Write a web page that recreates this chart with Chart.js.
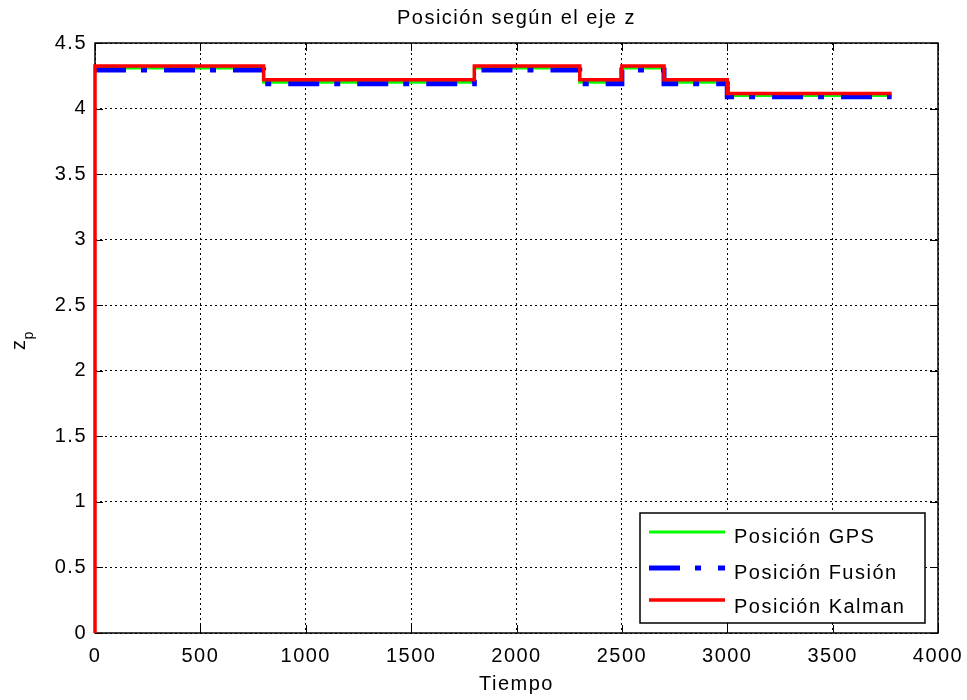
<!DOCTYPE html>
<html>
<head>
<meta charset="utf-8">
<script src="https://cdn.jsdelivr.net/npm/chart.js@4/dist/chart.umd.min.js"></script>
<style>
  html, body { margin: 0; padding: 0; background: #fff; }
  canvas { display: block; }
</style>
</head>
<body>
<canvas id="zChart" width="967" height="700"></canvas>
<script>
// Step change times and levels
const stepTimes = [0, 800, 1800, 2300, 2500, 2700, 3000, 3780];
const gpsZ = [4.31, 4.20, 4.31, 4.20, 4.31, 4.20, 4.10, 4.10];
const fusionZ = [4.295, 4.19, 4.295, 4.19, 4.295, 4.19, 4.09, 4.09];
const kalmanZ = [4.325, 4.22, 4.325, 4.22, 4.325, 4.22, 4.115, 4.115];
const kalmanStart = 0; // Kalman estimate starts at zero

const xTicks = [0, 500, 1000, 1500, 2000, 2500, 3000, 3500, 4000];
const yTicks = [0, 0.5, 1, 1.5, 2, 2.5, 3, 3.5, 4, 4.5];

const titleText = "Posición según el eje z";
const xLabel = "Tiempo";
const legendNames = ["Posición GPS", "Posición Fusión", "Posición Kalman"];

const FONT = "20px 'Liberation Sans', Arial, sans-serif";
const SPACING = "1.5px";

function toPoints(times, values) {
  return times.map((t, i) => ({ x: t, y: values[i] }));
}

const kalmanPoints = [{ x: stepTimes[0], y: kalmanStart }].concat(toPoints(stepTimes, kalmanZ));

// Draws the MATLAB-style frame, inward ticks, labels and the boxed legend
const matlabDecor = {
  id: "matlabDecor",
  beforeDraw(chart) {
    chart.ctx.letterSpacing = SPACING;
  },
  beforeDatasetsDraw(chart) {
    const ctx = chart.ctx;
    const a = chart.chartArea;
    const xs = chart.scales.x, ys = chart.scales.y;
    ctx.save();
    ctx.strokeStyle = "#000";
    ctx.lineWidth = 1;
    ctx.beginPath();
    xTicks.forEach((v) => {
      const px = Math.round(xs.getPixelForValue(v)) + 0.5;
      ctx.moveTo(px, a.bottom); ctx.lineTo(px, a.bottom - 8);
      ctx.moveTo(px, a.top); ctx.lineTo(px, a.top + 8);
    });
    yTicks.forEach((v) => {
      const py = Math.round(ys.getPixelForValue(v)) + 0.5;
      ctx.moveTo(a.left, py); ctx.lineTo(a.left + 8, py);
      ctx.moveTo(a.right, py); ctx.lineTo(a.right - 8, py);
    });
    ctx.stroke();
    ctx.lineWidth = 1.5;
    ctx.strokeRect(a.left, a.top, a.right - a.left, a.bottom - a.top);
    ctx.restore();
  },
  afterDraw(chart) {
    const ctx = chart.ctx;
    const a = chart.chartArea;
    const cx = (a.left + a.right) / 2;
    ctx.save();
    ctx.letterSpacing = SPACING;
    ctx.fillStyle = "#000";
    ctx.font = FONT;
    ctx.textBaseline = "alphabetic";

    // title and x label
    ctx.textAlign = "center";
    ctx.fillText(titleText, cx, 24);
    ctx.fillText(xLabel, cx, 690);

    // y label: z with subscript p, rotated
    ctx.save();
    ctx.translate(25, 350);
    ctx.rotate(-Math.PI / 2);
    ctx.textAlign = "left";
    ctx.font = FONT;
    ctx.fillText("z", 0, 0);
    const zw = ctx.measureText("z").width;
    ctx.font = "14px 'Liberation Sans', Arial, sans-serif";
    ctx.fillText("p", zw - 1, 8);
    ctx.restore();

    // legend box
    const bx = 640, by = 513, bw = 285, bh = 110;
    ctx.fillStyle = "#fff";
    ctx.fillRect(bx, by, bw, bh);
    ctx.strokeStyle = "#000";
    ctx.lineWidth = 1.5;
    ctx.strokeRect(bx, by, bw, bh);

    const lineY = [532, 568, 600];
    const textY = [543, 579, 613];
    const sets = [chart.data.datasets[2], chart.data.datasets[1], chart.data.datasets[0]];
    sets.forEach((ds, i) => {
      ctx.save();
      ctx.strokeStyle = ds.borderColor;
      ctx.lineWidth = ds.borderWidth;
      ctx.lineCap = "butt";
      ctx.setLineDash(ds.borderDash || []);
      ctx.beginPath();
      ctx.moveTo(649, lineY[i]);
      ctx.lineTo(725, lineY[i]);
      ctx.stroke();
      ctx.restore();
      ctx.fillStyle = "#000";
      ctx.textAlign = "left";
      ctx.font = FONT;
      ctx.fillText(legendNames[i], 734, textY[i]);
    });
    ctx.restore();
    ctx.letterSpacing = "0px";
  }
};

const ctx = document.getElementById("zChart").getContext("2d");
new Chart(ctx, {
  type: "line",
  data: {
    datasets: [
      {
        label: legendNames[2],
        data: kalmanPoints,
        borderColor: "#ff0000",
        borderWidth: 3.5,
        stepped: true,
        pointRadius: 0,
        fill: false,
        clip: 4,
        order: 0,
      },
      {
        label: legendNames[1],
        data: toPoints(stepTimes, fusionZ),
        borderColor: "#0000ff",
        borderWidth: 5,
        borderDash: [31, 15, 6, 17],
        borderCapStyle: "butt",
        stepped: true,
        pointRadius: 0,
        fill: false,
        clip: 4,
        order: 1,
      },
      {
        label: legendNames[0],
        data: toPoints(stepTimes, gpsZ),
        borderColor: "#00ff00",
        borderWidth: 3,
        stepped: true,
        pointRadius: 0,
        fill: false,
        clip: 4,
        order: 2,
      },
    ],
  },
  options: {
    responsive: false,
    devicePixelRatio: 1,
    animation: false,
    layout: { padding: { top: 43, right: 29, left: 0, bottom: 0 } },
    plugins: {
      legend: { display: false },
      title: { display: false },
      tooltip: { enabled: false },
    },
    scales: {
      x: {
        type: "linear",
        min: 0,
        max: 4000,
        afterBuildTicks: (s) => { s.ticks = xTicks.map((v) => ({ value: v })); },
        afterFit: (s) => { s.height = 67; s.paddingLeft = 0; s.paddingRight = 0; },
        ticks: {
          color: "#000",
          font: { family: "'Liberation Sans', Arial, sans-serif", size: 20 },
          padding: 11,
          maxRotation: 0,
          autoSkip: false,
          callback: (v) => String(v),
        },
        grid: { color: "#000", lineWidth: 1, drawTicks: false },
        border: { display: false, dash: [2, 3] },
      },
      y: {
        type: "linear",
        min: 0,
        max: 4.5,
        afterBuildTicks: (s) => { s.ticks = yTicks.map((v) => ({ value: v })); },
        afterFit: (s) => { s.width = 95; s.paddingTop = 0; s.paddingBottom = 0; },
        ticks: {
          color: "#000",
          font: { family: "'Liberation Sans', Arial, sans-serif", size: 20 },
          padding: 8,
          autoSkip: false,
          callback: (v) => String(v),
        },
        grid: { color: "#000", lineWidth: 1, drawTicks: false },
        border: { display: false, dash: [2, 3] },
      },
    },
  },
  plugins: [matlabDecor],
});
</script>
</body>
</html>
